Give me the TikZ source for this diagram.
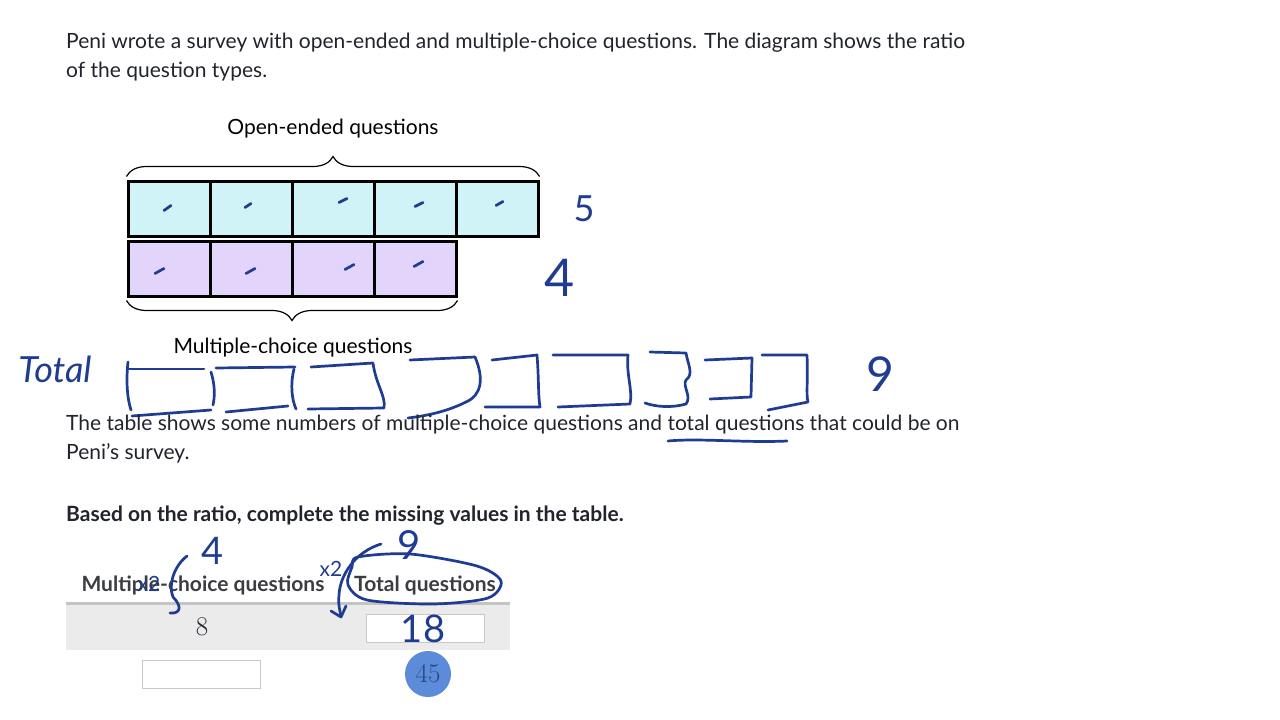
\documentclass[tikz,border=0pt]{standalone}
\usepackage{fontspec}
\setmainfont{Lato}
\usetikzlibrary{decorations.pathreplacing,calc}
\definecolor{textdark}{RGB}{33,36,44}
\definecolor{headgray}{RGB}{59,61,64}
\definecolor{opencyan}{RGB}{207,243,246}
\definecolor{mcviolet}{RGB}{226,212,250}
\definecolor{inkblue}{RGB}{30,60,145}
\definecolor{rowgray}{RGB}{235,235,235}
\definecolor{rulegray}{RGB}{196,196,196}
\definecolor{boxgray}{RGB}{200,200,200}
\definecolor{dotblue}{RGB}{92,139,217}
\definecolor{dotnum}{RGB}{40,72,130}

\begin{document}
\begin{tikzpicture}[
  x=1pt, y=-1pt,
  font=\fontsize{21}{25}\selectfont,
  bodytext/.style={anchor=base west, inner sep=0pt, text=textdark},
  labeltext/.style={anchor=base, inner sep=0pt, text=black},
  headtext/.style={anchor=base, inner sep=0pt, text=headgray, font=\fontsize{21}{25}\selectfont\bfseries},
  opencell/.style={draw, line width=3pt, fill=opencyan, minimum width=82pt, minimum height=55pt, inner sep=0pt},
  mccell/.style={opencell, fill=mcviolet},
  braceline/.style={decorate, decoration={brace, amplitude=20pt, raise=3pt}, line width=1.2pt},
  ink/.style={draw=inkblue, line width=2.7pt, line cap=round, line join=round},
  inktext/.style={text=inkblue, inner sep=0pt, font=\fontsize{#1}{#1}\selectfont},
  inputbox/.style={draw=boxgray, fill=white, line width=1pt, minimum width=118pt, minimum height=28pt, inner sep=0pt},
  answerdot/.style={circle, fill=dotblue, minimum size=46pt, inner sep=0pt, text=dotnum, font=\fontsize{27}{27}\fontfamily{lmr}\selectfont},
  numtext/.style={inner sep=0pt, text=textdark, font=\fontsize{27}{27}\fontfamily{lmr}\selectfont}
]
\fill[white] (0,0) rectangle (1280,720);
\useasboundingbox (0,0) rectangle (1280,720);

% question text
\node[bodytext] (q1) at (66,48) {Peni wrote a survey with open-ended and multiple-choice questions. The diagram shows the ratio};
\node[bodytext] (q2) at (66,77) {of the question types.};

% tape diagram
\node[labeltext] (openlabel) at (333,134) {Open-ended questions};
\node[opencell] (o1) at (169,208.5) {};
\node[opencell] (o2) at (251,208.5) {};
\node[opencell] (o3) at (333,208.5) {};
\node[opencell] (o4) at (415,208.5) {};
\node[opencell] (o5) at (497,208.5) {};
\node[mccell] (m1) at (169,268.5) {};
\node[mccell] (m2) at (251,268.5) {};
\node[mccell] (m3) at (333,268.5) {};
\node[mccell] (m4) at (415,268.5) {};
\draw[braceline] (o1.north west) -- (o5.north east);
\draw[braceline] (m4.south east) -- (m1.south west);
\node[labeltext] (mclabel) at (293,353) {Multiple-choice questions};

% tally marks
\draw[ink] ([shift={(-5,2)}]o1.center) -- ++(7,-5);
\draw[ink] ([shift={(-6,-1)}]o2.center) -- ++(6,-4);
\draw[ink] ([shift={(6,-6)}]o3.center) -- ++(8,-4);
\draw[ink] ([shift={(0,-2)}]o4.center) -- ++(8,-4);
\draw[ink] ([shift={(-1,-3)}]o5.center) -- ++(7,-4);
\draw[ink] ([shift={(-14,5)}]m1.center) -- ++(9,-5);
\draw[ink] ([shift={(-5,5)}]m2.center) -- ++(9,-5);
\draw[ink] ([shift={(12,1)}]m3.center) -- ++(9,-5);
\draw[ink] ([shift={(-1,-2)}]m4.center) -- ++(9,-5);
\node[inktext=36] (five) at (584,209) {5};
\node[inktext=52] (four) at (560,278) {4};

% total tape
\node[inktext=36] (total) at (55,369) {\itshape Total};
\draw[ink] (128,362) .. controls (126,380) and (127,398) .. (131,410);
\draw[ink] (129,369) -- (204,369);
\draw[ink] (132,416) -- (211,410);
\draw[ink] (211,372) .. controls (215,385) and (215,396) .. (213,405);
\draw[ink] (216,368) -- (295,367);
\draw[ink] (294,369) .. controls (290,385) and (292,400) .. (296,409);
\draw[ink] (226,412) -- (288,406);
\draw[ink] (311,367) -- (373,363) .. controls (376,385) and (386,396) .. (384,408) -- (308,409);
\draw[ink] (410,360) -- (475,357) .. controls (484,378) and (482,395) .. (466,402) .. controls (446,412) and (425,416) .. (408,418);
\draw[ink] (492,360) -- (537,355) .. controls (539,380) and (538,395) .. (540,407) -- (485,407);
\draw[ink] (553,355) -- (628,355) .. controls (626,375) and (633,390) .. (630,404) -- (558,407);
\draw[ink] (650,352) -- (686,353) .. controls (688,365) and (694,374) .. (686,380) .. controls (682,386) and (692,396) .. (686,404) .. controls (672,408) and (656,407) .. (645,403);
\draw[ink] (705,360) -- (752,358) -- (751,397) -- (710,399);
\draw[ink] (762,355) -- (807,355) .. controls (808,380) and (806,395) .. (808,402) -- (768,410);
\node[inktext=48] (nine) at (880,374) {9};

% table text
\node[bodytext] (t1) at (66,430) {The table shows some numbers of multiple-choice questions and total questions that could be on};
\node[bodytext] (t2) at (66,459) {Peni's survey.};
\draw[ink] (668,441) .. controls (700,438) and (745,443) .. (787,441);
\node[bodytext, font=\fontsize{21}{25}\selectfont\bfseries] (t3) at (66,521) {Based on the ratio, complete the missing values in the table.};

% table
\fill[rowgray] (66,604) rectangle (510,650);
\draw[rulegray, line width=3pt] (66,603) -- (510,603);
\node[headtext] (mchead) at (203,591) {Multiple-choice questions};
\node[headtext] (tqhead) at (425,591) {Total questions};
\node[numtext] (mc1) at (202,627) {8};
\node[inputbox] (tq1) at (425,628) {};
\node[inputbox] (mc2) at (201.5,674) {};
\node[answerdot] (tq2) at (428,674) {45};
\node[inktext=38] (eighteen) at (423,629) {18};

% scaling notes
\node[inktext=38] (mcunit) at (213,551) {4};
\node[inktext=40] (tqunit) at (409,545) {9};
\node[inktext=21] (lefttimes) at (149,584) {x2};
\node[inktext=21] (righttimes) at (331,569) {x2};
\draw[ink] (187,556) .. controls (174,566) and (168,585) .. (173,597) .. controls (182,606) and (181,614) .. (170,613);
\draw[ink] (381,544) .. controls (355,552) and (340,575) .. (339,595) .. controls (338,605) and (340,611) .. (341,616);
\draw[ink] (331,611) -- (341,617) -- (346,606);
\draw[ink] plot[smooth cycle] coordinates {(358,557) (410,554) (477,566) (501,581) (488,598) (433,604) (367,600) (348,585) (352,567)};
\end{tikzpicture}
\end{document}
